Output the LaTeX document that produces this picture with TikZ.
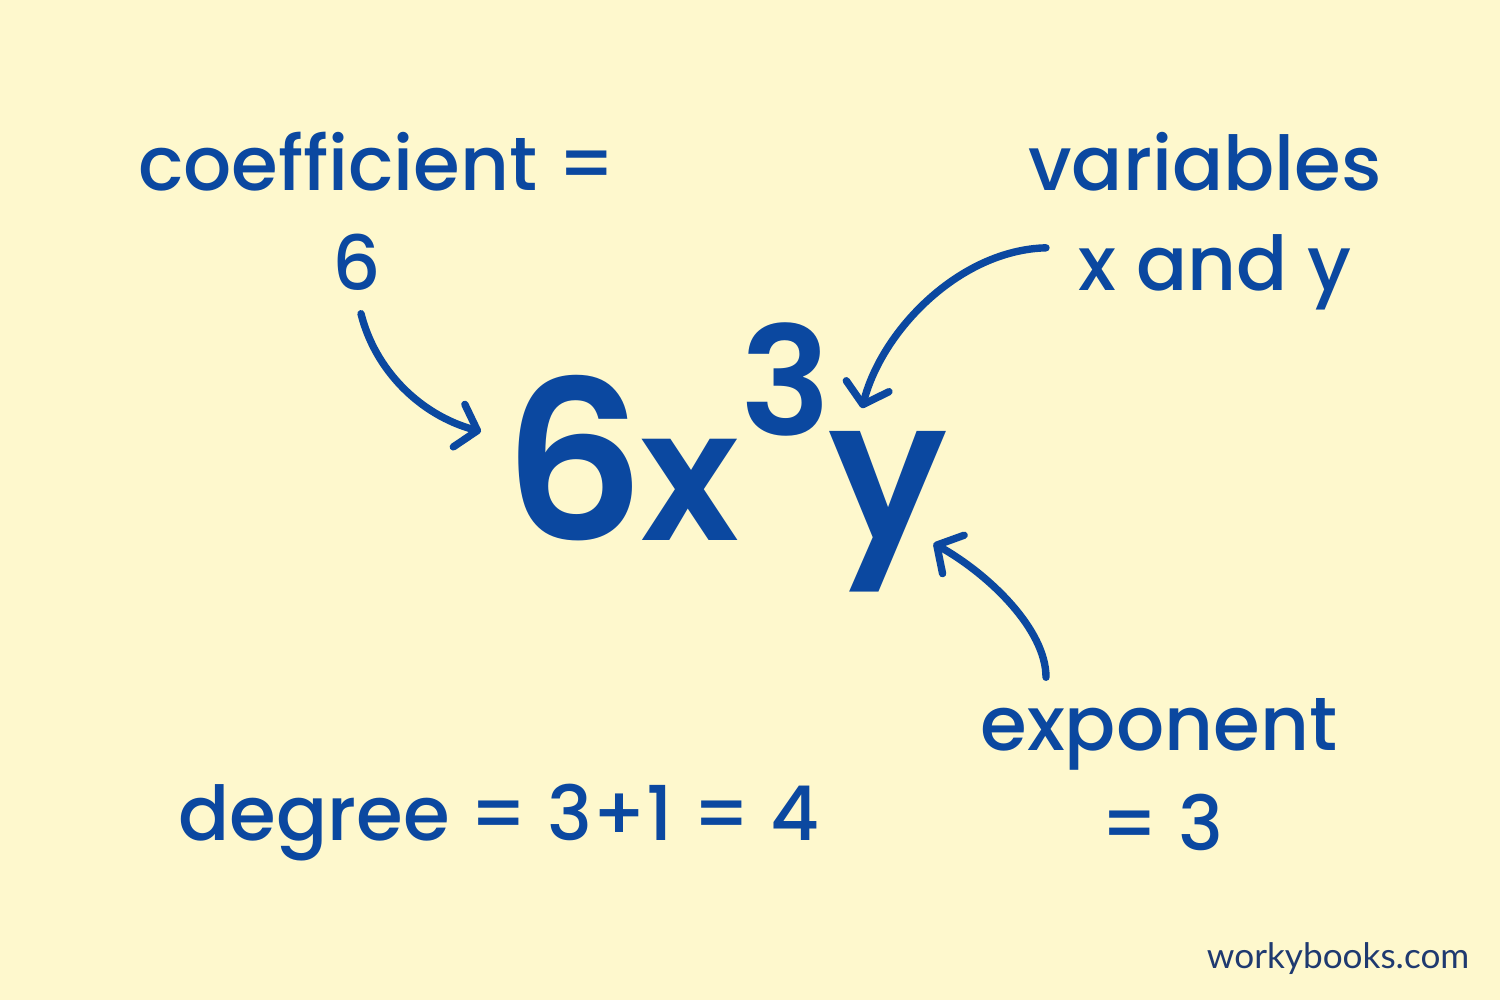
\documentclass[tikz,border=0pt]{standalone}
\usepackage{fontspec}
\setmainfont{Poppins}[UprightFont={* Medium}, BoldFont={* SemiBold}]
\newfontfamily\sitefont{Lato}
\usetikzlibrary{arrows.meta}
\definecolor{paper}{HTML}{FEF8CD}
\definecolor{ink}{HTML}{0B48A0}
\definecolor{site}{HTML}{1F3A70}
\tikzset{
  lbl/.style={text=ink, inner sep=0pt, anchor=base, font=\fontsize{21.5}{26}\selectfont},
  big/.style={text=ink, inner sep=0pt, anchor=base west, font=\bfseries\fontsize{#1}{#1}\selectfont},
  arr/.style={ink, line width=2.1pt, line cap=round,
    -{Straight Barb[length=1.9mm,width=4.4mm,round]}}
}
\begin{document}
\begin{tikzpicture}[x=0.01cm, y=-0.01cm]
        % background and bounding box
        \fill[paper] (0,0) rectangle (1500,1000);
        \useasboundingbox (0,0) rectangle (1500,1000);
        % the term
        \node[big=63] (six) at (503,540) {6};
        \node[big=52] (ex)  at (640,540) {x};
        \node[big=43] (sup) at (740,435) {3};
        \node[big=56] (why) at (828,540) {y};
        % labels
        \node[lbl] (coef)  at (377,190) {coefficient =};
        \node[lbl] (cnum)  at (357,290) {6};
        \node[lbl] (vars)  at (1205,190) {variables};
        \node[lbl] (vxy)   at (1215,290) {x and y};
        \node[lbl] (expo)  at (1159,750) {exponent};
        \node[lbl] (enum)  at (1162,850) {= 3};
        \node[lbl] (deg)   at (499,840) {degree = 3+1 = 4};
        \node[anchor=base east, inner sep=0pt, text=site, font=\sitefont\fontsize{10}{12}\selectfont]
             (site) at (1470,968) {workybooks.com};
        % arrows to the term
        \draw[arr] ([shift={(4,23)}]cnum.south) .. controls (375,370) and (420,415) .. ([shift={(-22,-26)}]six.west);
        \draw[arr] ([shift={(-32,-24)}]vxy.west) .. controls (960,250) and (882,330) .. ([shift={(34,-22)}]why.north west);
        \draw[arr] ([shift={(-113,-20)}]expo.north) .. controls (1046,630) and (990,575) .. ([shift={(-15,-49)}]why.south east);
\end{tikzpicture}
\end{document}
